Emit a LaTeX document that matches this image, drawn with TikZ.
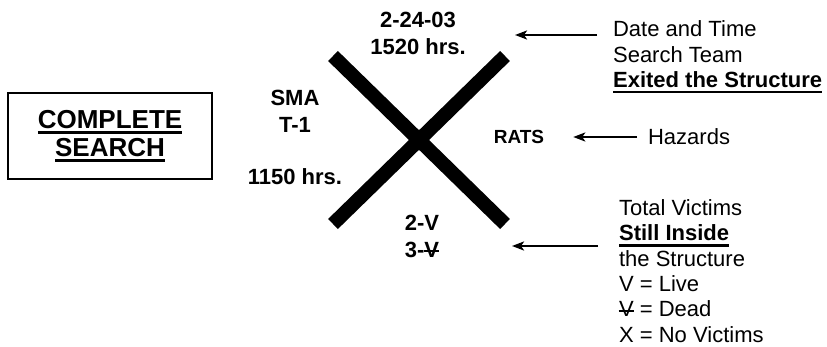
\documentclass[tikz,border=0pt]{standalone}
\usepackage{fontspec}
\setmainfont{Liberation Sans}
\usetikzlibrary{arrows.meta, positioning}

% underlined and struck-out letters of the marking
\newcommand{\undl}[1]{\leavevmode\vtop{\hbox{#1}\kern3pt\hrule height 2.6pt}}
\newcommand{\deadv}{\ooalign{V\cr\hidewidth\rule[0.24em]{0.7em}{2pt}\hidewidth\cr}}

\begin{document}
\begin{tikzpicture}[
                > = {Stealth[length = 12pt, width = 9pt, inset = 3pt]}, % arrow head style
                x = 1pt, y = -1pt, % sketch grid, y runs down
                line width = 2.2pt % line style
            ]

            \tikzstyle{every node}=[inner sep = 0pt, align = left,
            font = \fontsize{22}{25.4}\selectfont]
            \tikzstyle{boldtext}=[align = center, font =
            \fontsize{22}{27}\selectfont\bfseries]
            \tikzstyle{cross}=[line width = 14pt, line cap = butt]

            \useasboundingbox (0,0) rectangle (827,347);

            % the big X of the marking
            \coordinate (ul) at (333,56); \coordinate (lr) at (505,224);
            \coordinate (ur) at (505,56); \coordinate (ll) at (333,224);
            \draw[cross] (ul) -- (lr); \draw[cross] (ll) -- (ur);

            \node (complete) [draw, line width = 1.8pt, minimum width = 204pt,
            minimum height = 86pt, align = center, font =
            \fontsize{26}{28}\selectfont\bfseries] at (110,136)
            {\undl{COMPLETE}\\\undl{SEARCH}};

            \node (date) [boldtext] at (418,33) {2-24-03\\1520 hrs.}; \node
            (team) [boldtext] at (295,111) {SMA\\T-1}; \node (entry)
            [boldtext] at (295,177) {1150 hrs.}; \node (rats) [boldtext, font
            = \fontsize{19}{22}\selectfont\bfseries] at (519,137) {RATS};
            \node (count) [boldtext] at (422,236) {2-V\\3-\deadv};

            \node (exited) [anchor = west] at (612,57) {Date and
            Time\\Search Team\\\undl{\textbf{Exited the Structure}}}; \node
            (hazards) [anchor = west] at (647,137) {Hazards}; \node (victims)
            [anchor = west] at (618,271) {Total Victims\\\undl{\textbf{Still
            Inside}}\\the Structure\\V = Live\\\deadv{} = Dead\\X = No
            Victims};

            \coordinate (datetip) at (515,35); \coordinate (victimtip) at
            (512,246);

            \draw[->, shorten <= 15pt] (exited.west |- datetip) --
            (datetip); \draw[->, shorten <= 10pt, shorten >= 28pt] (hazards)
            -- (rats); \draw[->, shorten <= 20pt] (victims.west |- victimtip)
            -- (victimtip);

        \end{tikzpicture}
\end{document}
